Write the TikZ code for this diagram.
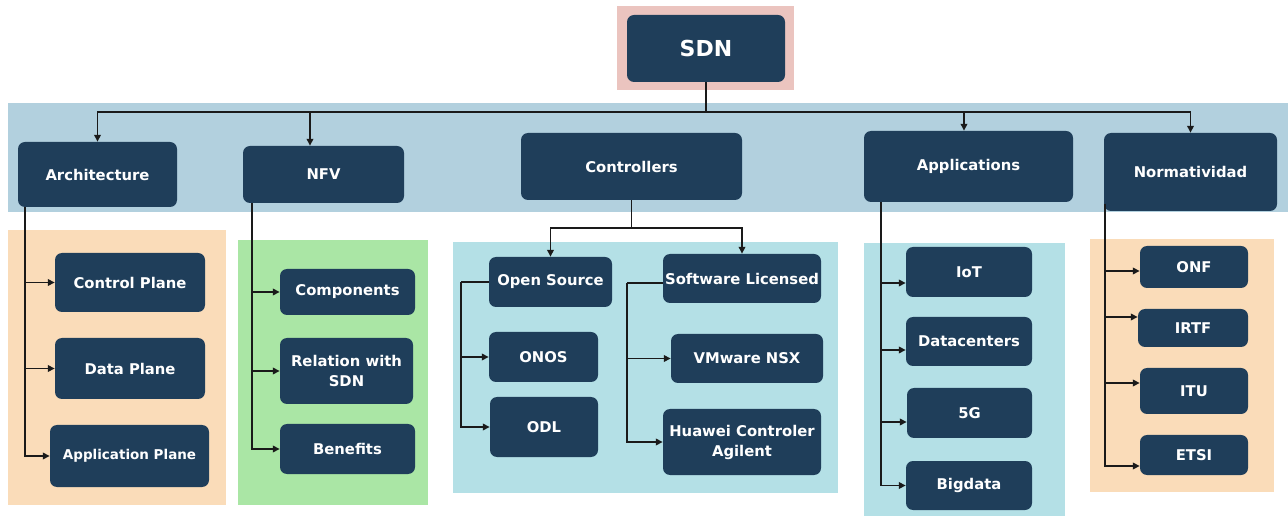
\documentclass[tikz,border=0pt]{standalone}
\usepackage{fontspec}
\setmainfont{DejaVu Sans}
\usetikzlibrary{arrows.meta,calc}
\definecolor{navy}{HTML}{1F3E5A}
\definecolor{linec}{HTML}{1A1A1A}
\definecolor{pinkbg}{HTML}{EBC4BF}
\definecolor{bandbg}{HTML}{B2D0DE}
\definecolor{orangebg}{HTML}{FADCB9}
\definecolor{greenbg}{HTML}{AAE6A5}
\definecolor{cyanbg}{HTML}{B4E0E6}
\begin{document}
\begin{tikzpicture}[x=1pt,y=-1pt,
  box/.style={fill=navy, rounded corners=7pt, text=white, align=center, inner sep=0pt,
    font=\bfseries\fontsize{14.8}{20}\selectfont},
  ln/.style={draw=linec, line width=1.7pt},
  arr/.style={ln, -{Triangle[length=7pt,width=6.5pt]}}]
\useasboundingbox (0,0) rectangle (1288,518);
% background panels
\fill[pinkbg] (617,6) rectangle (794,90);
\fill[bandbg] (8,103) rectangle (1288,212);
\fill[orangebg] (8,230) rectangle (226,505);
\fill[greenbg] (238,240) rectangle (428,505);
\fill[cyanbg] (453,242) rectangle (838,493);
\fill[cyanbg] (864,243) rectangle (1065,516);
\fill[orangebg] (1090,239) rectangle (1274,492);
% root
\node[box, minimum width=158pt, minimum height=67pt, font=\bfseries\fontsize{22}{26}\selectfont] (sdn) at (706,48.5) {SDN};
% level 1
\node[box, minimum width=159pt, minimum height=65pt] (arch) at (97.5,174.5) {Architecture};
\node[box, minimum width=161pt, minimum height=57pt] (nfv) at (323.5,174.5) {NFV};
\node[box, minimum width=221pt, minimum height=67pt] (ctrl) at (631.5,166.5) {Controllers};
\node[box, minimum width=209pt, minimum height=71pt] (apps) at (968.5,166.5) {Applications};
\node[box, minimum width=173pt, minimum height=78pt] (norm) at (1190.5,172) {Normatividad};
% architecture children
\node[box, minimum width=150pt, minimum height=59pt] (cp) at (130,282.5) {Control Plane};
\node[box, minimum width=150pt, minimum height=61pt] (dp) at (130,368.5) {Data Plane};
\node[box, minimum width=159pt, minimum height=62pt, font=\bfseries\fontsize{13.5}{17}\selectfont] (ap) at (129.5,456) {Application Plane};
% nfv children
\node[box, minimum width=135pt, minimum height=46pt] (comp) at (347.5,292) {Components};
\node[box, minimum width=133pt, minimum height=66pt] (rel) at (346.5,371) {Relation with\\SDN};
\node[box, minimum width=135pt, minimum height=50pt] (ben) at (347.5,449) {Benefits};
% controllers children
\node[box, minimum width=123pt, minimum height=50pt] (os) at (550.5,282) {Open Source};
\node[box, minimum width=158pt, minimum height=49pt] (sl) at (742,278.5) {Software Licensed};
\node[box, minimum width=109pt, minimum height=50pt] (onos) at (543.5,357) {ONOS};
\node[box, minimum width=108pt, minimum height=60pt] (odl) at (544,427) {ODL};
\node[box, minimum width=152pt, minimum height=49pt] (vm) at (747,358.5) {VMware NSX};
\node[box, minimum width=158pt, minimum height=66pt] (hw) at (742,442) {Huawei Controler\\Agilent};
% applications children
\node[box, minimum width=126pt, minimum height=50pt] (iot) at (969,272) {IoT};
\node[box, minimum width=126pt, minimum height=49pt] (dc) at (969,341.5) {Datacenters};
\node[box, minimum width=125pt, minimum height=50pt] (g5) at (969.5,413) {5G};
\node[box, minimum width=126pt, minimum height=49pt] (bd) at (969,485.5) {Bigdata};
% normatividad children
\node[box, minimum width=108pt, minimum height=42pt] (onf) at (1194,267) {ONF};
\node[box, minimum width=110pt, minimum height=38pt] (irtf) at (1193,328) {IRTF};
\node[box, minimum width=108pt, minimum height=46pt] (itu) at (1194,391) {ITU};
\node[box, minimum width=108pt, minimum height=40pt] (etsi) at (1194,455) {ETSI};
% root connectors
\coordinate (hub) at (706,112);
\draw[ln] (sdn.south) -- (hub);
\draw[arr] (hub) -| (arch.north);
\draw[arr] (hub) -| ([xshift=-13.5pt]nfv.north);
\draw[arr] (hub) -| ([xshift=-4.5pt]apps.north);
\draw[arr] (hub) -| (norm.north);
% architecture
\draw[arr] ([xshift=7pt]arch.south west) |- (cp.west);
\draw[arr] ([xshift=7pt]arch.south west) |- (dp.west);
\draw[arr] ([xshift=7pt]arch.south west) |- (ap.west);
% nfv
\draw[arr] ([xshift=9pt]nfv.south west) |- (comp.west);
\draw[arr] ([xshift=9pt]nfv.south west) |- (rel.west);
\draw[arr] ([xshift=9pt]nfv.south west) |- (ben.west);
% controllers
\coordinate (csplit) at (631.5,228);
\draw[ln] (ctrl.south) -- (csplit);
\draw[arr] (csplit) -| (os.north);
\draw[arr] (csplit) -| (sl.north);
\coordinate (osbus) at (461,282);
\draw[ln] (os.west) -- (osbus);
\draw[arr] (osbus) |- (onos.west);
\draw[arr] (osbus) |- (odl.west);
\coordinate (slbus) at (627,283);
\draw[ln] ([yshift=-4.5pt]sl.west) -- (slbus);
\draw[arr] (slbus) |- (vm.west);
\draw[arr] (slbus) |- (hw.west);
% applications
\draw[arr] ([xshift=17pt]apps.south west) |- ([yshift=-11pt]iot.west);
\draw[arr] ([xshift=17pt]apps.south west) |- ([yshift=-8.5pt]dc.west);
\draw[arr] ([xshift=17pt]apps.south west) |- ([yshift=-9pt]g5.west);
\draw[arr] ([xshift=17pt]apps.south west) |- (bd.west);
% normatividad
\coordinate (ntop) at (1105,204);
\draw[arr] (ntop) |- ([yshift=-4pt]onf.west);
\draw[arr] (ntop) |- ([yshift=11pt]irtf.west);
\draw[arr] (ntop) |- ([yshift=8pt]itu.west);
\draw[arr] (ntop) |- ([yshift=-11pt]etsi.west);
\end{tikzpicture}
\end{document}
